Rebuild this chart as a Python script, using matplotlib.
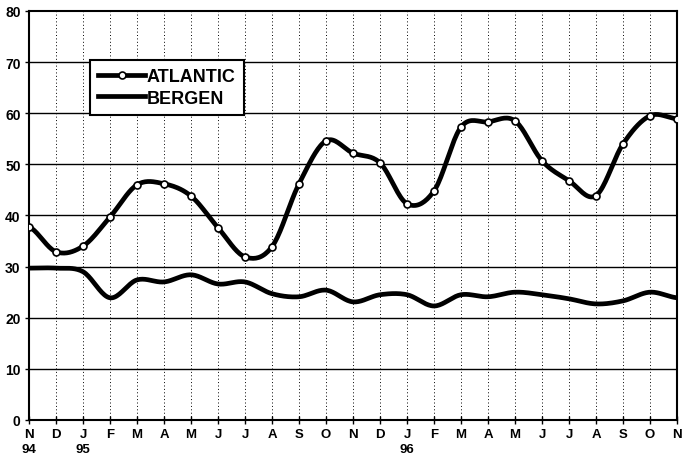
import matplotlib
matplotlib.use("Agg")
import matplotlib.pyplot as plt
import numpy as np

plt.rcParams['font.family'] = ['Liberation Sans', 'DejaVu Sans']

months = ["N", "D", "J", "F", "M", "A", "M", "J", "J", "A", "S", "O",
          "N", "D", "J", "F", "M", "A", "M", "J", "J", "A", "S", "O", "N"]
years = {0: "94", 2: "95", 14: "96"}

atlantic = [37.8, 32.9, 34.0, 39.7, 46.0, 46.2, 43.8, 37.6, 31.9, 33.9, 46.2, 54.6,
            52.2, 50.3, 42.3, 44.8, 57.3, 58.3, 58.5, 50.7, 46.8, 43.9, 54.0, 59.5, 58.9]
bergen = [29.7, 29.7, 29.0, 23.9, 27.4, 27.0, 28.4, 26.6, 27.0, 24.7, 24.1, 25.4,
          23.1, 24.5, 24.5, 22.3, 24.5, 24.1, 25.0, 24.5, 23.7, 22.7, 23.3, 25.0, 23.9]


def smooth(y, n=20):
    # catmull-rom through the points, like excel's smoothed line
    y = np.asarray(y, float)
    p = np.concatenate([[y[0]], y, [y[-1]]])
    xs, ys = [], []
    for i in range(len(y) - 1):
        t = np.linspace(0, 1, n, endpoint=False)
        p0, p1, p2, p3 = p[i], p[i + 1], p[i + 2], p[i + 3]
        seg = 0.5 * (2 * p1 + (-p0 + p2) * t + (2 * p0 - 5 * p1 + 4 * p2 - p3) * t ** 2
                     + (-p0 + 3 * p1 - 3 * p2 + p3) * t ** 3)
        xs.append(i + t)
        ys.append(seg)
    xs.append([len(y) - 1])
    ys.append([y[-1]])
    return np.concatenate(xs), np.concatenate(ys)


fig = plt.figure(figsize=(6.86, 4.64), dpi=100)
ax = fig.add_axes([0.0423, 0.0927, 0.9446, 0.8815])

x = np.arange(len(months))
ax.set_xlim(0, len(months) - 1)
ax.set_ylim(0, 80)

for v in x[1:-1]:
    ax.axvline(v, color='black', lw=0.7, ls=(0, (1, 2.5)), zorder=1)
for v in range(10, 80, 10):
    ax.axhline(v, color='black', lw=1.0, zorder=1)

sx, sy = smooth(bergen)
ax.plot(sx, sy, color='black', lw=3.4, solid_capstyle='round', zorder=3)
sx, sy = smooth(atlantic)
ax.plot(sx, sy, color='black', lw=3.4, solid_capstyle='round', zorder=3)
ax.plot(x, atlantic, ls='none', marker='o', ms=5, mfc='white', mec='black', mew=1.2, zorder=4)

h1, = ax.plot([], [], color='black', lw=3.4, marker='o', ms=5, mfc='white', mec='black', mew=1.2)
h2, = ax.plot([], [], color='black', lw=3.4)
leg = ax.legend([h1, h2], ["ATLANTIC", "BERGEN"], loc='upper left',
                bbox_to_anchor=(0.094, 0.88), fancybox=False, framealpha=1,
                edgecolor='black', handlelength=2.6, handletextpad=0.1,
                borderpad=0.45, labelspacing=0.25, borderaxespad=0,
                prop={'weight': 'bold', 'size': 13})
leg.get_frame().set_linewidth(1.5)

labels = [m + ("\n" + years[i] if i in years else "") for i, m in enumerate(months)]
ax.set_xticks(x)
ax.set_xticklabels(labels, fontweight='bold', fontsize=9.5, linespacing=1.3, va='top')
ax.set_yticks(range(0, 90, 10))
ax.set_yticklabels([str(v) for v in range(0, 90, 10)], fontweight='bold', fontsize=10)
ax.tick_params(axis='x', direction='inout', length=6, width=1, pad=3)
ax.tick_params(axis='y', direction='out', length=3, width=1, pad=3)
for s in ax.spines.values():
    s.set_linewidth(1.5)

fig.savefig("out.png", dpi=100)
